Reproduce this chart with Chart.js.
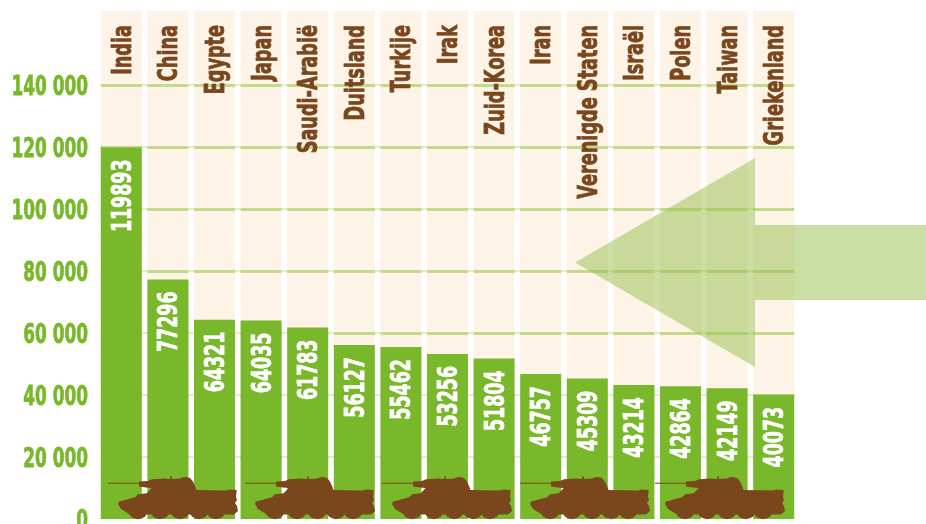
<!DOCTYPE html>
<html>
<head>
<meta charset="utf-8">
<style>
  html, body { margin: 0; padding: 0; background: #fff; overflow: hidden; }
  canvas { display: block; }
</style>
<script src="https://cdn.jsdelivr.net/npm/chart.js@4"></script>
</head>
<body>
<canvas id="tanks-chart" width="926" height="524"></canvas>
<script>
// Chart data
const countries = ["India", "China", "Egypte", "Japan", "Saudi-Arabië", "Duitsland", "Turkije", "Irak",
  "Zuid-Korea", "Iran", "Verenigde Staten", "Israël", "Polen", "Taiwan", "Griekenland"];
const troops = [119893, 77296, 64321, 64035, 61783, 56127, 55462, 53256, 51804, 46757, 45309, 43214, 42864, 42149, 40073];
const yTickValues = [0, 20000, 40000, 60000, 80000, 100000, 120000, 140000];

const Y_MAX = 163900;
const FONT = "bold 26px 'DejaVu Sans', sans-serif";
const CAP_HALF = 9.5;
const GREEN = "#78b82a";
const BROWN = "#7a461c";
const CREAM = "#fdf3e6";
const LINE_STRONG = "#c3da8a";
const LINE_FAINT = "#e3eec9";

// Tank silhouette, local coordinates from the tip of the barrel
const TANK_OUTLINE = [
  [0, 6.7], [31, 6.7], [31, 5.5], [40, 5], [44, 3.3], [56, 2.6], [62, 3], [62.6, 0], [63.6, 0], [64.2, 3],
  [72, 2.6], [75, 1.2], [78, 1], [82, 2], [85, 5.5], [87, 10], [88.5, 14], [118, 14.6], [121, 13.5], [128.7, 14],
  [128, 21], [129, 24], [127, 27], [129, 30], [130, 35], [126, 38.5], [22, 38.5],
  [13, 33], [10, 28], [11, 25.5], [17, 24], [27, 21.3], [30, 18.3], [38.7, 17.3], [43.7, 12], [38, 11.5], [31, 10.5], [31, 7.7], [0, 7.7]
];
const TANK_WHEELS = [[30, 33], [52, 33], [72, 33], [91, 33], [108, 33]];
const TANK_LEFTS = [108, 245, 382, 520, 655];
const TANK_TOP = 476;

const ARROW = [[575, 262.5], [755, 158], [755, 225], [926, 225], [926, 300], [755, 300], [755, 367]];

function drawTank(ctx, left) {
  ctx.save();
  ctx.translate(left, TANK_TOP);
  ctx.fillStyle = BROWN;
  ctx.beginPath();
  TANK_OUTLINE.forEach(([x, y], i) => i ? ctx.lineTo(x, y) : ctx.moveTo(x, y));
  ctx.closePath();
  ctx.fill();
  TANK_WHEELS.forEach(([x, y]) => {
    ctx.beginPath();
    ctx.arc(x, y, 10.2, 0, Math.PI * 2);
    ctx.fill();
  });
  ctx.restore();
}

// The reference uses a heavy condensed face, so squeeze the text along its run and thicken it
function drawSqueezed(ctx, text, x, y, rotated, squeeze, color) {
  ctx.save();
  ctx.translate(x, y);
  if (rotated) ctx.rotate(-Math.PI / 2);
  ctx.scale(squeeze, 1);
  ctx.font = FONT;
  ctx.fillStyle = color;
  ctx.strokeStyle = color;
  ctx.lineWidth = 0.8;
  ctx.textAlign = "right";
  ctx.textBaseline = "alphabetic";
  ctx.fillText(text, 0, CAP_HALF);
  ctx.strokeText(text, 0, CAP_HALF);
  ctx.restore();
}

// Grid lines go over the cream columns but under the green bars
const columnGrid = {
  id: "columnGrid",
  afterDatasetDraw(chart, args) {
    if (args.index !== 0) return;
    const ctx = chart.ctx, yScale = chart.scales.y, cols = args.meta.data;
    const first = cols[0], last = cols[cols.length - 1];
    ctx.save();
    yTickValues.filter(v => v > 0).forEach(v => {
      const y = Math.round(yScale.getPixelForValue(v));
      ctx.fillStyle = LINE_FAINT;
      ctx.fillRect(first.x - first.width / 2, y - 1, last.x - first.x + last.width, 2);
      ctx.fillStyle = LINE_STRONG;
      cols.forEach(c => ctx.fillRect(c.x - c.width / 2, y - 1, c.width, 3));
    });
    ctx.restore();
  }
};

// Axis labels, country names, bar values, tanks and the arrow on top of everything
const overlays = {
  id: "overlays",
  afterDatasetsDraw(chart) {
    const ctx = chart.ctx, bars = chart.getDatasetMeta(1).data, yScale = chart.scales.y;
    yScale.ticks.forEach(t => {
      drawSqueezed(ctx, t.label, 88, yScale.getPixelForValue(t.value), false, 0.65, GREEN);
    });
    bars.forEach((bar, i) => {
      drawSqueezed(ctx, countries[i], bar.x, 25, true, 0.68, BROWN);
      drawSqueezed(ctx, String(troops[i]), bar.x, bar.y + 12, true, 0.67, "#ffffff");
    });
    TANK_LEFTS.forEach(left => drawTank(ctx, left));

    ctx.save();
    ctx.fillStyle = "rgba(151, 191, 75, 0.5)";
    ctx.beginPath();
    ARROW.forEach(([x, y], i) => i ? ctx.lineTo(x, y) : ctx.moveTo(x, y));
    ctx.closePath();
    ctx.fill();
    ctx.restore();
  }
};

new Chart(document.getElementById("tanks-chart"), {
  type: "bar",
  data: {
    labels: countries,
    datasets: [
      { data: countries.map(() => Y_MAX), backgroundColor: CREAM, order: 2 },
      { data: troops, backgroundColor: GREEN, order: 1 }
    ]
  },
  options: {
    responsive: false,
    animation: false,
    devicePixelRatio: 1,
    grouped: false,
    categoryPercentage: 1,
    barPercentage: 0.88,
    layout: { padding: { left: 0, right: 129, top: 11, bottom: 5 } },
    plugins: { legend: { display: false }, tooltip: { enabled: false } },
    scales: {
      x: { display: false, grid: { display: false } },
      y: {
        min: 0,
        max: Y_MAX,
        grid: { display: false },
        border: { display: false },
        afterBuildTicks(scale) { scale.ticks = yTickValues.map(value => ({ value })); },
        afterFit(scale) { scale.width = 98; scale.paddingTop = 0; scale.paddingBottom = 0; },
        ticks: {
          display: false,
          autoSkip: false,
          callback: v => String(v).replace(/\B(?=(\d{3})+$)/g, " ")
        }
      }
    }
  },
  plugins: [columnGrid, overlays]
});
</script>
</body>
</html>
